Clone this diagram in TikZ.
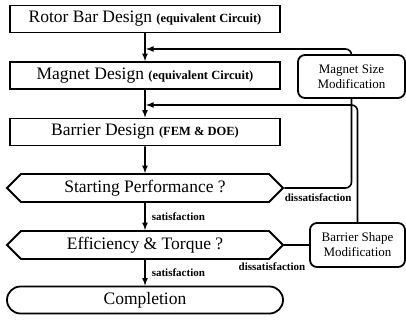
\documentclass[tikz,border=0pt]{standalone}
\usepackage{fontspec}
\setmainfont{Liberation Serif}
\usetikzlibrary{calc, shapes, arrows}
\tikzstyle{design} = [rectangle, draw, line width=1.8pt, minimum width=270pt, minimum height=27pt, inner sep=0pt]
\tikzstyle{check} = [signal, signal to=west and east, draw, line width=1.8pt, minimum width=276pt, minimum height=28pt, inner sep=0pt]
\tikzstyle{finish} = [rectangle, draw, rounded corners=13.5pt, line width=1.8pt, minimum width=276pt, minimum height=27pt, inner sep=0pt]
\tikzstyle{modify} = [rectangle, draw, rounded corners=7pt, line width=1.8pt, align=center, inner sep=0pt, font=\fontsize{13}{15}\selectfont]
\tikzstyle{note} = [font=\bfseries\fontsize{11}{12}\selectfont, inner sep=1pt]
\newcommand{\maintxt}{\fontsize{17.5}{19}\selectfont}
\newcommand{\subtxt}{\bfseries\fontsize{12.5}{14}\selectfont}

\begin{document}
\begin{tikzpicture}[x=1pt, y=-1pt, line width=1.6pt]
        \useasboundingbox (0, 0) rectangle (406, 321);
        \node[design] at (145, 19) (RotorBar) {\maintxt Rotor Bar Design \subtxt(equivalent Circuit)};
        \node[design] at (145, 75.5) (MagnetDesign) {\maintxt Magnet Design \subtxt(equivalent Circuit)};
        \node[design] at (145, 132) (BarrierDesign) {\maintxt Barrier Design \subtxt(FEM \& DOE)};
        \node[check] at (145, 188) (Starting) {\maintxt Starting Performance ?};
        \node[check] at (145, 245) (Efficiency) {\maintxt Efficiency \& Torque ?};
        \node[finish] at (145, 300) (Completion) {\maintxt Completion};

        \node[modify, minimum width=107pt, minimum height=43pt] at (351.5, 76.5) (MagnetSize) {Magnet Size\\Modification};
        \node[modify, minimum width=95pt, minimum height=44pt] at (357.5, 245) (BarrierShape) {Barrier Shape\\Modification};

        \coordinate (FbMagnet) at (146, 49);
        \coordinate (FbBarrier) at (146, 105);

        \draw[-latex] (RotorBar) -- (MagnetDesign);
        \draw[-latex] (MagnetDesign) -- (BarrierDesign);
        \draw[-latex] (BarrierDesign) -- (Starting);
        \draw[-latex] (Starting) -- (Efficiency);
        \draw[-latex] (Efficiency) -- (Completion);

        \draw[rounded corners=6pt] (Starting.east) -| (MagnetSize.south);
        \draw[-latex, rounded corners=6pt] (MagnetSize.north) |- (FbMagnet);
        \draw (Efficiency.east) -- (BarrierShape.west);
        \draw[-latex, rounded corners=6pt] (BarrierShape.north) |- (FbBarrier);

        \node[note, anchor=west] at (150, 217) (SatOne) {satisfaction};
        \node[note, anchor=west] at (150, 273) (SatTwo) {satisfaction};
        \node[note, anchor=west] at (283, 198) (DisOne) {dissatisfaction};
        \node[note] at (272, 267) (DisTwo) {dissatisfaction};
    \end{tikzpicture}
\end{document}
